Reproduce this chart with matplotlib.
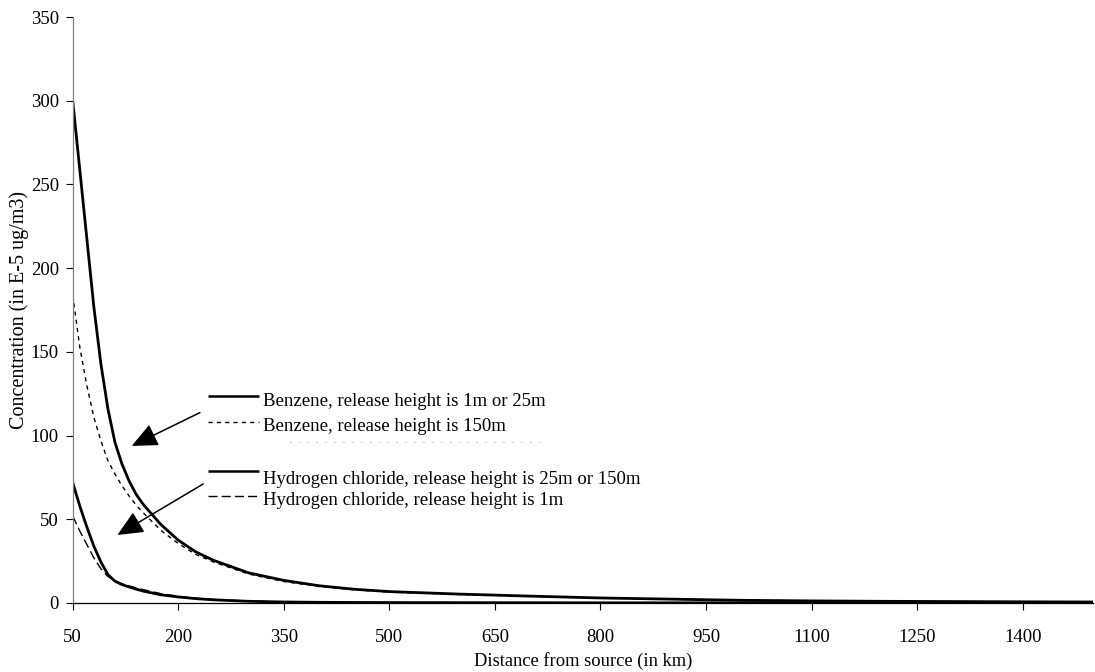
import matplotlib
matplotlib.use('Agg')
import matplotlib.pyplot as plt

plt.rcParams['font.family'] = 'serif'
plt.rcParams['font.serif'] = ['Liberation Serif', 'DejaVu Serif']

# --- Datos (km, E-5 ug/m3) ---
distancia = [50, 60, 70, 80, 90, 100, 110, 120, 130, 140, 150, 175, 200, 225,
             250, 300, 350, 400, 450, 500, 600, 700, 800, 900, 1000, 1100,
             1200, 1300, 1400, 1500]
benceno_1_25 = [300, 259, 218, 177, 143, 116, 96, 83, 73, 65, 59, 47, 37.5,
                30.5, 25.5, 18, 13.5, 10.3, 8.2, 6.8, 5.3, 4.1, 3.0, 2.3,
                1.6, 1.25, 1.0, 0.85, 0.7, 0.6]
benceno_150 = [184, 153, 130, 111, 97, 85, 77, 70, 64, 58.5, 54, 43.5, 35.5,
               29, 24.5, 17.3, 12.8, 9.9, 7.9, 6.5, 5.1, 4.0, 2.95, 2.25,
               1.5, 1.2, 0.95, 0.8, 0.65, 0.55]
hcl_25_150 = [72, 58, 45.5, 34, 24.5, 17, 13, 11, 9.6, 8.3, 7.1, 4.9, 3.6,
              2.6, 1.9, 1.0, 0.6, 0.4, 0.3, 0.25, 0.2, 0.15, 0.1, 0.1, 0.08,
              0.06, 0.05, 0.05, 0.04, 0.04]
hcl_1 = [52, 43, 35, 27, 20.5, 15.8, 13.3, 11.5, 10.2, 9, 8.0, 5.6, 4.0, 2.8,
         2.1, 1.1, 0.65, 0.42, 0.3, 0.25, 0.2, 0.15, 0.1, 0.1, 0.08, 0.06,
         0.05, 0.05, 0.04, 0.04]

etiquetas = ['Benzene, release height is 1m or 25m',
             'Benzene, release height is 150m',
             'Hydrogen chloride, release height is 25m or 150m',
             'Hydrogen chloride, release height is 1m']

xticks = list(range(50, 1401, 150))
yticks = list(range(0, 351, 50))

fig = plt.figure(figsize=(10.95, 6.72), dpi=100)
ax = fig.add_axes([0.0664, 0.1027, 0.9318, 0.872])

estilos = [dict(color='black', lw=2.0, ls='-'),
           dict(color='black', lw=1.0, ls=(0, (3, 3))),
           dict(color='black', lw=2.0, ls='-'),
           dict(color='black', lw=1.0, ls=(0, (6.5, 3)))]

series = [benceno_1_25, benceno_150, hcl_25_150, hcl_1]
for serie, est in zip(series, estilos):
    ax.plot(distancia, serie, solid_joinstyle='round', **est)

# --- Leyenda dibujada a mano (como en el original) ---
ley_x0, ley_x1, txt_x = 241.8, 315.1, 320.7
ley_y = [123.7, 107.9, 79.0, 63.9]
txt_y = [120.2, 105.3, 73.5, 61.1]
for yl, yt, est, et in zip(ley_y, txt_y, estilos, etiquetas):
    ax.plot([ley_x0, ley_x1], [yl, yl], solid_capstyle='butt',
            **{**est, 'lw': 1.8 if est['ls'] == '-' else est['lw']})
    ax.text(txt_x, yt, et, fontsize=13.5, va='center', ha='left')

# resto tenue bajo la segunda etiqueta
ax.plot([358, 724], [96.4, 96.4], color='#d0d0d0', lw=0.8, ls=(0, (2, 6)))

# --- Flechas ---
flechas = [((230.8, 113.7), (133.8, 93.8)),
           ((235.5, 71.1), (113.4, 40.6))]
for ini, fin in flechas:
    ax.annotate('', xy=fin, xytext=ini,
                arrowprops=dict(arrowstyle='-|>,head_length=0.8,head_width=0.36',
                                color='black', lw=1.1, shrinkA=0, shrinkB=0,
                                mutation_scale=20))

ax.set_xlim(50, 1500)
ax.set_ylim(0, 350)
ax.set_xticks(xticks)
ax.set_yticks(yticks)
ax.tick_params(axis='both', labelsize=13.5, length=5, width=0.8, direction='out')
ax.tick_params(axis='x', pad=14)
ax.tick_params(axis='y', pad=5)
for lado in ['top', 'right']:
    ax.spines[lado].set_visible(False)
ax.spines['left'].set_color('#808080')
ax.spines['bottom'].set_color('black')
ax.spines['left'].set_linewidth(0.9)
ax.spines['bottom'].set_linewidth(0.9)

ax.set_xlabel('Distance from source (in km)', fontsize=13.3, labelpad=4)
ax.set_ylabel('Concentration (in E-5 ug/m3)', fontsize=14.5, labelpad=1)

plt.savefig('out.png', dpi=100, facecolor='white')
plt.close()
